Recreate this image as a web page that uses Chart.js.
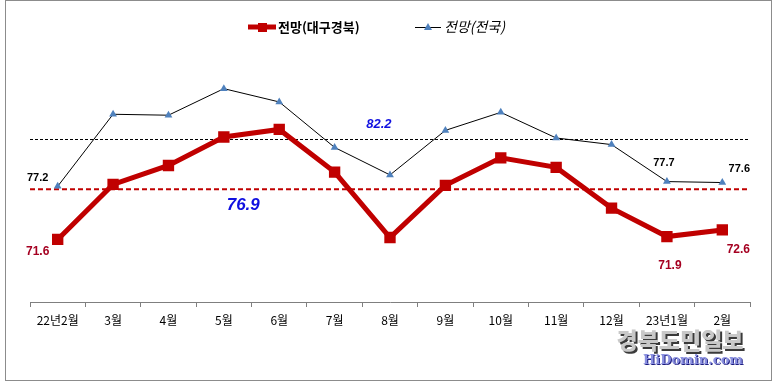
<!DOCTYPE html>
<html>
<head>
<meta charset="utf-8">
<script src="https://cdn.jsdelivr.net/npm/chart.js@4/dist/chart.umd.min.js"></script>
<style>
html,body{margin:0;padding:0;background:#fff;}
#wrap{width:774px;height:383px;position:relative;}
</style>
</head>
<body>
<div id="wrap"><canvas id="c" width="774" height="383"></canvas></div>
<script>
const categories = ['22년2월','3월','4월','5월','6월','7월','8월','9월','10월','11월','12월','23년1월','2월'];
const daeguValues = [71.6,77.4,79.4,82.4,83.2,78.7,71.8,77.3,80.2,79.2,74.9,71.9,72.6];
const nationalValues = [77.2,84.8,84.7,87.5,86.1,81.3,78.4,83.1,85.0,82.3,81.6,77.7,77.6];
const daeguAverage = 76.9;
const nationalAverage = 82.2;
const seriesNames = ['전망(대구경북)','전망(전국)'];
const watermarkTitle = '경북도민일보';
const watermarkSite = 'HiDomin.com';

const RED = '#C00000';
const DARKRED = '#A50021';
const TRI = '#4F81BD';
const KFONT = '"Noto Sans CJK KR","Noto Sans",sans-serif';
const NFONT = '"Liberation Sans","Noto Sans",sans-serif';

const decor = {
  id:'decor',
  beforeDatasetsDraw(chart){
    const {ctx, chartArea:a, scales:{y}} = chart;
    ctx.save();
    let py = Math.round(y.getPixelForValue(nationalAverage))+0.5;
    ctx.strokeStyle='#000'; ctx.lineWidth=1; ctx.setLineDash([3,2]);
    ctx.beginPath(); ctx.moveTo(a.left,py); ctx.lineTo(a.right,py); ctx.stroke();
    py = y.getPixelForValue(daeguAverage);
    ctx.strokeStyle=RED; ctx.lineWidth=2; ctx.setLineDash([5,3]);
    ctx.beginPath(); ctx.moveTo(a.left,py); ctx.lineTo(a.right-3,py); ctx.stroke();
    ctx.restore();
  },
  afterDraw(chart){
    const {ctx, scales:{x,y}} = chart;
    ctx.save();
    ctx.strokeStyle='#8c8c8c'; ctx.lineWidth=1;
    ctx.strokeRect(5.5,0.5,766,380);
    ctx.textAlign='center'; ctx.textBaseline='middle';
    const lab=(txt,i,v,dx,dy,color,font)=>{
      ctx.fillStyle=color; ctx.font=font;
      ctx.fillText(txt, x.getPixelForValue(i)+dx, y.getPixelForValue(v)+dy);
    };
    const n=categories.length-1;
    lab(nationalValues[0].toFixed(1),0,nationalValues[0],-20,-8,'#000','bold 11px '+NFONT);
    lab(daeguValues[0].toFixed(1),0,daeguValues[0],-20,12,DARKRED,'bold 12px '+NFONT);
    lab(nationalValues[n-1].toFixed(1),n-1,nationalValues[n-1],-3,-19,'#000','bold 11px '+NFONT);
    lab(nationalValues[n].toFixed(1),n,nationalValues[n],17,-14,'#000','bold 11px '+NFONT);
    lab(daeguValues[n].toFixed(1),n,daeguValues[n],16,20,DARKRED,'bold 12px '+NFONT);
    lab(daeguValues[n-1].toFixed(1),n-1,daeguValues[n-1],3,29,DARKRED,'bold 12px '+NFONT);
    lab(daeguAverage.toFixed(1),3.35,daeguAverage,0,16,'#1010E0','italic bold 17px '+NFONT);
    lab(nationalAverage.toFixed(1),5.8,nationalAverage,0,-14,'#1010E0','italic bold 13px '+NFONT);

    // legend
    ctx.strokeStyle=RED; ctx.lineWidth=5;
    ctx.beginPath(); ctx.moveTo(248,27); ctx.lineTo(276,27); ctx.stroke();
    ctx.fillStyle=RED; ctx.fillRect(258,23,9,9);
    ctx.fillStyle='#000'; ctx.textAlign='left';
    ctx.font='bold 13px '+KFONT;
    ctx.fillText(seriesNames[0],278,27);
    ctx.strokeStyle='#000'; ctx.lineWidth=1;
    ctx.beginPath(); ctx.moveTo(415,27.5); ctx.lineTo(441,27.5); ctx.stroke();
    ctx.fillStyle=TRI; ctx.beginPath(); ctx.moveTo(428,23); ctx.lineTo(432,30); ctx.lineTo(424,30); ctx.closePath(); ctx.fill();
    ctx.fillStyle='#000'; ctx.font='italic 14px '+KFONT;
    ctx.fillText(seriesNames[1],444,27);

    // watermark
    ctx.textAlign='center';
    ctx.font='900 23px '+KFONT;
    ctx.fillStyle='#3a3a3a';
    ctx.fillText(watermarkTitle,682,342);
    ctx.fillStyle='#c8c8c8';
    ctx.fillText(watermarkTitle,680,340);
    ctx.font='bold 13px "DejaVu Serif","Liberation Serif",serif';
    ctx.fillStyle='#1a1a80';
    ctx.fillText(watermarkSite,694,362);
    ctx.fillStyle='#8a90e0';
    ctx.fillText(watermarkSite,693,361);
    ctx.restore();
  }
};

new Chart(document.getElementById('c'),{
  type:'line',
  data:{
    labels:categories,
    datasets:[
      {label:seriesNames[1], data:nationalValues, borderColor:'#000', borderWidth:1,
       pointStyle:'triangle', pointRadius:4.5, pointBackgroundColor:TRI, pointBorderColor:TRI, pointBorderWidth:0, tension:0, order:1},
      {label:seriesNames[0], data:daeguValues, borderColor:RED, borderWidth:5,
       pointStyle:'rect', pointRadius:4.5, pointBackgroundColor:RED, pointBorderColor:RED, tension:0, order:2}
    ]
  },
  options:{
    responsive:false, animation:false, devicePixelRatio:1,
    layout:{padding:{left:30,right:24,top:46,bottom:0}},
    plugins:{legend:{display:false}, tooltip:{enabled:false}},
    scales:{
      y:{display:false, min:65, max:92},
      x:{offset:true,
         grid:{offset:true, drawOnChartArea:false, drawTicks:true, tickLength:5, color:'#7f7f7f'},
         border:{color:'#7f7f7f'},
         ticks:{color:'#000', font:{family:KFONT, size:12}, padding:6, maxRotation:0, autoSkip:false},
         afterFit:(s)=>{s.height=81;}
      }
    }
  },
  plugins:[decor]
});
</script>
</body>
</html>
